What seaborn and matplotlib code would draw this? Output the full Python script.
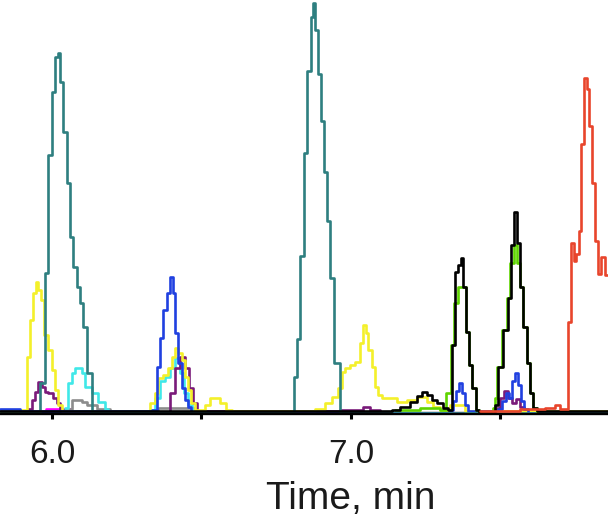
import matplotlib
matplotlib.use("Agg")
import matplotlib.pyplot as plt
import seaborn as sns
import pandas as pd

# ---------------- data (time in min, intensity in arbitrary units) ----------------
teal_t = [5.826, 5.960, 5.977, 5.987, 6.000, 6.010, 6.020, 6.027, 6.037, 6.050, 6.060,
          6.070, 6.084, 6.094, 6.104, 6.117, 6.134,
          6.809, 6.819, 6.829, 6.843, 6.853, 6.866, 6.873, 6.880, 6.890, 6.900, 6.910,
          6.920, 6.930, 6.943, 6.963, 7.860]
teal_y = [0, 30, 140, 258, 321, 356, 360, 331, 281, 230, 176,
          146, 126, 110, 86, 40, 0,
          36, 74, 157, 260, 342, 396, 410, 383, 339, 292, 241,
          192, 135, 50, 0, 0]

yellow_t = [5.826, 5.893, 5.915, 5.926, 5.937, 5.945, 5.952, 5.963, 5.974, 5.988, 5.999,
            6.010, 6.021, 6.033,
            6.328, 6.344, 6.355, 6.371, 6.388, 6.401, 6.411, 6.421, 6.435, 6.445, 6.455,
            6.465, 6.478, 6.512, 6.528, 6.562, 6.582, 6.602,
            6.880, 6.913, 6.936, 6.957, 6.970, 6.980, 6.997, 7.013, 7.030, 7.040, 7.050,
            7.057, 7.070, 7.080, 7.090, 7.104, 7.154, 7.187, 7.221, 7.254, 7.274, 7.298,
            7.331, 7.381, 7.860]
yellow_y = [2, 3, 56, 93, 120, 131, 123, 113, 78, 63, 43,
            23, 8, 2,
            10, 20, 35, 38, 45, 56, 65, 60, 53, 36, 23,
            10, 3, 8, 15, 10, 3, 2,
            4, 10, 16, 25, 41, 45, 48, 51, 70, 88, 80,
            63, 46, 26, 18, 15, 11, 13, 16, 11, 6, 3,
            8, 2, 2]

blue_t = [5.826, 5.893, 6.334, 6.350, 6.361, 6.372, 6.384, 6.395, 6.404, 6.411, 6.422,
          6.434, 6.445, 6.455, 6.465,
          7.331, 7.341, 7.351, 7.361, 7.371, 7.381, 7.391,
          7.492, 7.505, 7.518, 7.528, 7.538, 7.548, 7.559, 7.569, 7.579, 7.592, 7.860]
blue_y = [4, 2, 3, 46, 75, 103, 120, 136, 120, 80, 50,
          25, 13, 6, 0,
          3, 12, 22, 30, 20, 8, 2,
          4, 12, 20, 15, 32, 40, 28, 12, 4, 0, 0]

cyan_t = [6.043, 6.055, 6.067, 6.077, 6.099, 6.110, 6.133, 6.155, 6.177, 6.188,
          6.328, 6.344, 6.361, 6.378, 6.395, 6.411, 6.428, 6.441, 6.455, 6.468]
cyan_y = [5, 30, 40, 45, 40, 26, 20, 11, 4, 0,
          3, 15, 32, 36, 45, 55, 40, 20, 8, 0]

purple_t = [5.920, 5.933, 5.943, 5.953, 5.967, 5.977, 5.987, 6.003, 6.017, 6.027, 6.037,
            6.395, 6.411, 6.428, 6.445, 6.458, 6.472, 6.485,
            6.963, 7.040, 7.064, 7.097,
            7.485, 7.498, 7.512, 7.525, 7.538, 7.552, 7.565, 7.579, 7.592]
purple_y = [4, 13, 21, 31, 26, 21, 20, 15, 10, 3, 0,
            20, 45, 56, 45, 25, 10, 2,
            3, 6, 3, 0,
            5, 15, 22, 15, 10, 14, 6, 2, 0]

gray_t = [6.043, 6.067, 6.100, 6.117, 6.151, 6.194, 6.211, 6.355, 6.478]
gray_y = [4, 13, 11, 8, 4, 2, 0, 5, 0]

magenta_t = [5.980, 6.060]
magenta_y = [4, 0]

black_t = [5.826, 7.137, 7.164, 7.197, 7.221, 7.237, 7.254, 7.271, 7.288, 7.308, 7.324,
           7.337, 7.348, 7.359, 7.367, 7.374, 7.384, 7.395, 7.406, 7.417, 7.428,
           7.482, 7.492, 7.508, 7.524, 7.535, 7.546, 7.554, 7.565, 7.576, 7.588, 7.599,
           7.610, 7.622, 7.860]
black_y = [2, 3, 6, 11, 17, 21, 18, 13, 10, 5, 3,
           68, 141, 148, 155, 126, 81, 48, 25, 3, 0,
           8, 46, 83, 115, 168, 201, 170, 126, 86, 50, 20,
           5, 2, 2]

green_t = [7.147, 7.231, 7.298, 7.318, 7.335, 7.346, 7.357, 7.384, 7.395, 7.406, 7.417,
           7.428, 7.475, 7.482, 7.490, 7.506, 7.522, 7.533, 7.544, 7.554, 7.565, 7.576,
           7.588, 7.599, 7.610, 7.622]
green_y = [3, 5, 3, 20, 68, 110, 126, 81, 48, 25, 3,
           0, 5, 15, 46, 83, 115, 150, 168, 150, 126, 86,
           50, 20, 5, 0]

red_t = [7.431, 7.565, 7.649, 7.682, 7.699, 7.727, 7.737, 7.746, 7.753, 7.762, 7.771,
         7.780, 7.789, 7.796, 7.805, 7.816, 7.826, 7.837, 7.849, 7.860]
red_y = [2, 4, 5, 8, 4, 91, 170, 152, 159, 182, 269,
         335, 324, 287, 230, 172, 139, 156, 138, 138]

traces = [
    ("magenta", magenta_t, magenta_y, "#FF00FF"),
    ("gray", gray_t, gray_y, "#8C8C8C"),
    ("cyan", cyan_t, cyan_y, "#40E8E8"),
    ("purple", purple_t, purple_y, "#7A1A7A"),
    ("yellow", yellow_t, yellow_y, "#F4F02A"),
    ("blue", blue_t, blue_y, "#2040E0"),
    ("teal", teal_t, teal_y, "#2E7F80"),
    ("green", green_t, green_y, "#5FD400"),
    ("black", black_t, black_y, "#000000"),
    ("red", red_t, red_y, "#E8452C"),
]

frames = []
for name, t, y, c in traces:
    frames.append(pd.DataFrame({"trace": name, "time": t, "intensity": y}))
df = pd.concat(frames, ignore_index=True)
order = [tr[0] for tr in traces]
palette = {tr[0]: tr[3] for tr in traces}

# ---------------- plot ----------------
sns.set_style("white")
plt.rcParams["font.family"] = ["Liberation Sans", "DejaVu Sans"]

fig = plt.figure(figsize=(6.08, 5.21), dpi=100)
ax = fig.add_axes([0, 108 / 521, 1, 413 / 521])

sns.lineplot(data=df, x="time", y="intensity", hue="trace", hue_order=order,
             palette=palette, estimator=None, sort=False, legend=False,
             drawstyle="steps-post", linewidth=1.9, ax=ax)

ax.set_xlim(5.826, 7.860)
ax.set_ylim(0, 413)

for s in ["left", "top", "right"]:
    ax.spines[s].set_visible(False)
ax.spines["bottom"].set_linewidth(2.4)
ax.spines["bottom"].set_color("black")
ax.spines["bottom"].set_zorder(0.5)

ax.set_yticks([])
ax.set_ylabel("")
ax.set_xticks([6.0, 6.5, 7.0, 7.5])
ax.set_xticklabels(["6.0", "", "7.0", ""])
ax.tick_params(axis="x", direction="out", length=4.5, width=2.2, pad=14,
               labelsize=24, colors="black", labelcolor="#1a1a1a", bottom=True)
ax.set_xlabel("Time, min", fontsize=28, color="#1a1a1a")
ax.xaxis.set_label_coords(0.576, -0.165)

fig.savefig("out.png", dpi=100)
